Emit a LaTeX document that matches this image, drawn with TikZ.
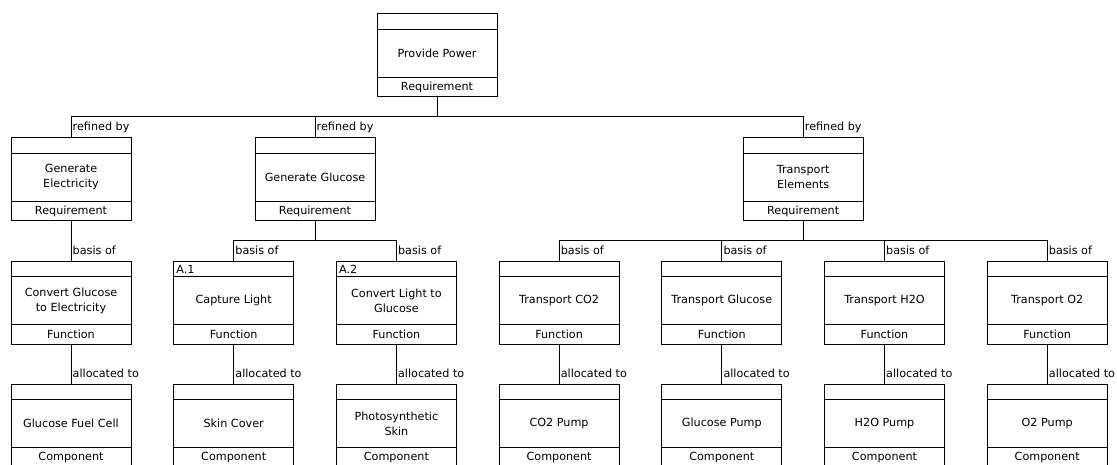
\documentclass[tikz,border=0pt]{standalone}
\usepackage{fontspec}
\setmainfont{DejaVu Sans}
\newcommand\sysblock[7]{% name, cx, top, tag, text, type
  \node[blockbox, anchor=north] (#1) at (#2,#3) {};
  \draw[conn] ([yshift=-16pt]#1.north west) -- ([yshift=-16pt]#1.north east);
  \draw[conn] ([yshift=20pt]#1.south west) -- ([yshift=20pt]#1.south east);
  \node[tagtext, anchor=base west] (#1-tag) at ([xshift=3pt,yshift=-12.5pt]#1.north west) {#4};
  \node[bodytext] (#1-txt) at ([yshift=2pt]#1.center) {#5};
  \node[bodytext] (#1-type) at ([yshift=10pt]#1.south) {#6};
}
\begin{document}
\begin{tikzpicture}[x=1pt,y=-1pt,
  font=\fontsize{11.2}{15}\selectfont,
  blockbox/.style={draw=black, line width=1pt, fill=white, minimum width=120pt, minimum height=83pt, inner sep=0pt},
  conn/.style={draw=black, line width=1pt},
  bodytext/.style={align=center, inner sep=0pt},
  tagtext/.style={inner sep=0pt},
  lbl/.style={inner sep=0pt, anchor=base west}]
\clip (0,0) rectangle (1117,464);
\fill[white] (0,0) rectangle (1117,464);
% level 1
\sysblock{pp}{437}{13}{}{Provide Power}{Requirement}{}
% level 2
\sysblock{ge}{71}{137}{}{Generate\\Electricity}{Requirement}{}
\sysblock{gg}{315}{137}{}{Generate Glucose}{Requirement}{}
\sysblock{te}{803.2}{137}{}{Transport\\Elements}{Requirement}{}
% level 3
\sysblock{f1}{71}{260.5}{}{Convert Glucose\\to Electricity}{Function}{}
\sysblock{f2}{233.7}{260.5}{A.1}{Capture Light}{Function}{}
\sysblock{f3}{396.4}{260.5}{A.2}{Convert Light to\\Glucose}{Function}{}
\sysblock{f4}{559.1}{260.5}{}{Transport CO2}{Function}{}
\sysblock{f5}{721.8}{260.5}{}{Transport Glucose}{Function}{}
\sysblock{f6}{884.5}{260.5}{}{Transport H2O}{Function}{}
\sysblock{f7}{1047.2}{260.5}{}{Transport O2}{Function}{}
% level 4
\sysblock{c1}{71}{383.5}{}{Glucose Fuel Cell}{Component}{}
\sysblock{c2}{233.7}{383.5}{}{Skin Cover}{Component}{}
\sysblock{c3}{396.4}{383.5}{}{Photosynthetic\\Skin}{Component}{}
\sysblock{c4}{559.1}{383.5}{}{CO2 Pump}{Component}{}
\sysblock{c5}{721.8}{383.5}{}{Glucose Pump}{Component}{}
\sysblock{c6}{884.5}{383.5}{}{H2O Pump}{Component}{}
\sysblock{c7}{1047.2}{383.5}{}{O2 Pump}{Component}{}
% junctions
\coordinate (j1) at (437,116.5);
\coordinate (j2) at (315,240.5);
\coordinate (j3) at (803.2,240.5);
% level 1 -> 2
\draw[conn] (pp.south) -- (j1) -| (ge.north);
\draw[conn] (j1) -| (gg.north);
\draw[conn] (j1) -| (te.north);
\foreach \n in {ge,gg,te}{
  \node[lbl] (\n-rl) at ([xshift=1.5pt,yshift=6.5pt]\n.north) {refined by};
}
% level 2 -> 3
\draw[conn] (ge.south) -- (f1.north);
\draw[conn] (gg.south) -- (j2) -| (f2.north);
\draw[conn] (j2) -| (f3.north);
\draw[conn] (te.south) -- (j3) -| (f4.north);
\draw[conn] (j3) -| (f5.north);
\draw[conn] (j3) -| (f6.north);
\draw[conn] (j3) -| (f7.north);
\foreach \n in {f1,f2,f3,f4,f5,f6,f7}{
  \node[lbl] (\n-bl) at ([xshift=1.5pt,yshift=6.5pt]\n.north) {basis of};
}
% level 3 -> 4
\foreach \i in {1,...,7}{
  \draw[conn] (f\i.south) -- (c\i.north);
  \node[lbl] (c\i-al) at ([xshift=1.5pt,yshift=6.5pt]c\i.north) {allocated to};
}
\end{tikzpicture}
\end{document}
